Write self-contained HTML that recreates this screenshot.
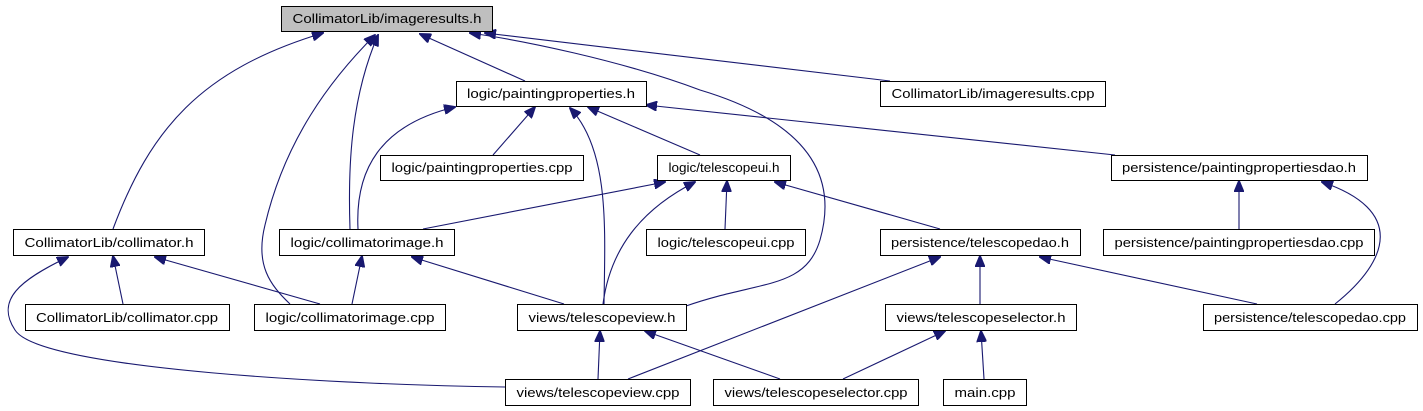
<!DOCTYPE html>
<html><head><meta charset="utf-8"><style>
html,body{margin:0;padding:0;background:#fff;}
svg{display:block;}
text{font-family:"Liberation Sans",sans-serif;font-size:13px;fill:#000;}
rect{fill:#fff;stroke:#000;stroke-width:1;}
path{fill:none;stroke:#191970;stroke-width:1.1;}
</style></head><body>
<svg width="1423" height="411" viewBox="0 0 1423 411" xmlns="http://www.w3.org/2000/svg">
<defs><marker id="a" markerWidth="12" markerHeight="10" refX="11" refY="5" orient="auto" markerUnits="userSpaceOnUse"><path d="M0,0 L12,5 L0,10 Z" style="fill:#191970;stroke:#191970"/></marker></defs>
<g marker-end="url(#a)">
<path d="M113,229 C150,130 200,70 323,33"/>
<path d="M290,304 C270,285 255,265 265,225 C285,140 330,80 375,35"/>
<path d="M350,229 C348,170 350,100 378,35"/>
<path d="M525,81 L420,34"/>
<path d="M686,306 C760,280 805,290 820,240 C840,170 800,120 700,90 C620,60 520,40 470,33"/>
<path d="M890,81 L485,33"/>
<path d="M1115,155 L646,105"/>
<path d="M493,155 L535,107"/>
<path d="M700,155 L588,107"/>
<path d="M604,304 C605,230 610,150 570,108"/>
<path d="M358,229 C355,170 380,125 455,107"/>
<path d="M423,229 L665,182"/>
<path d="M603,304 C610,250 640,210 695,182"/>
<path d="M725,229 L727,181"/>
<path d="M940,229 L775,182"/>
<path d="M1239,229 L1239,181"/>
<path d="M1335,304 C1390,260 1405,210 1322,182"/>
<path d="M123,304 L113,256"/>
<path d="M320,304 L155,257"/>
<path d="M505,387 C350,385 40,370 15,330 C-5,300 20,280 68,257"/>
<path d="M352,304 L362,256"/>
<path d="M564,304 L412,257"/>
<path d="M598,379 L600,331"/>
<path d="M780,379 L645,331"/>
<path d="M628,379 L940,257"/>
<path d="M980,304 L980,256"/>
<path d="M1257,304 L1040,257"/>
<path d="M843,379 L945,331"/>
<path d="M984,379 L981,331"/>
</g>
<rect x="281.5" y="6.5" width="211" height="25" style="fill:#bfbfbf"/>
<text x="387" y="23" text-anchor="middle" textLength="189" lengthAdjust="spacingAndGlyphs">CollimatorLib/imageresults.h</text>
<rect x="456.5" y="81.5" width="190" height="25"/><text x="551" y="98" text-anchor="middle" textLength="168" lengthAdjust="spacingAndGlyphs">logic/paintingproperties.h</text>
<rect x="880.5" y="81.5" width="225" height="25"/><text x="993" y="98" text-anchor="middle" textLength="203" lengthAdjust="spacingAndGlyphs">CollimatorLib/imageresults.cpp</text>
<rect x="380.5" y="155.5" width="203" height="25"/><text x="482" y="172" text-anchor="middle" textLength="181" lengthAdjust="spacingAndGlyphs">logic/paintingproperties.cpp</text>
<rect x="657.5" y="155.5" width="133" height="25"/><text x="724" y="172" text-anchor="middle" textLength="111" lengthAdjust="spacingAndGlyphs">logic/telescopeui.h</text>
<rect x="1111.5" y="155.5" width="256" height="25"/><text x="1239" y="172" text-anchor="middle" textLength="234" lengthAdjust="spacingAndGlyphs">persistence/paintingpropertiesdao.h</text>
<rect x="13.5" y="229.5" width="191" height="26"/><text x="109" y="247" text-anchor="middle" textLength="169" lengthAdjust="spacingAndGlyphs">CollimatorLib/collimator.h</text>
<rect x="279.5" y="229.5" width="175" height="26"/><text x="367" y="247" text-anchor="middle" textLength="153" lengthAdjust="spacingAndGlyphs">logic/collimatorimage.h</text>
<rect x="646.5" y="229.5" width="159" height="26"/><text x="726" y="247" text-anchor="middle" textLength="137" lengthAdjust="spacingAndGlyphs">logic/telescopeui.cpp</text>
<rect x="880.5" y="229.5" width="200" height="26"/><text x="980" y="247" text-anchor="middle" textLength="178" lengthAdjust="spacingAndGlyphs">persistence/telescopedao.h</text>
<rect x="1103.5" y="229.5" width="271" height="26"/><text x="1239" y="247" text-anchor="middle" textLength="249" lengthAdjust="spacingAndGlyphs">persistence/paintingpropertiesdao.cpp</text>
<rect x="25.5" y="304.5" width="204" height="26"/><text x="127" y="322" text-anchor="middle" textLength="182" lengthAdjust="spacingAndGlyphs">CollimatorLib/collimator.cpp</text>
<rect x="254.5" y="304.5" width="191" height="26"/><text x="350" y="322" text-anchor="middle" textLength="169" lengthAdjust="spacingAndGlyphs">logic/collimatorimage.cpp</text>
<rect x="517.5" y="304.5" width="169" height="26"/><text x="602" y="322" text-anchor="middle" textLength="147" lengthAdjust="spacingAndGlyphs">views/telescopeview.h</text>
<rect x="885.5" y="304.5" width="191" height="26"/><text x="981" y="322" text-anchor="middle" textLength="169" lengthAdjust="spacingAndGlyphs">views/telescopeselector.h</text>
<rect x="1203.5" y="304.5" width="214" height="26"/><text x="1310" y="322" text-anchor="middle" textLength="192" lengthAdjust="spacingAndGlyphs">persistence/telescopedao.cpp</text>
<rect x="505.5" y="379.5" width="185" height="26"/><text x="598" y="397" text-anchor="middle" textLength="163" lengthAdjust="spacingAndGlyphs">views/telescopeview.cpp</text>
<rect x="713.5" y="379.5" width="205" height="26"/><text x="816" y="397" text-anchor="middle" textLength="183" lengthAdjust="spacingAndGlyphs">views/telescopeselector.cpp</text>
<rect x="943.5" y="379.5" width="83" height="26"/><text x="985" y="397" text-anchor="middle" textLength="61" lengthAdjust="spacingAndGlyphs">main.cpp</text>
</svg>
</body></html>
